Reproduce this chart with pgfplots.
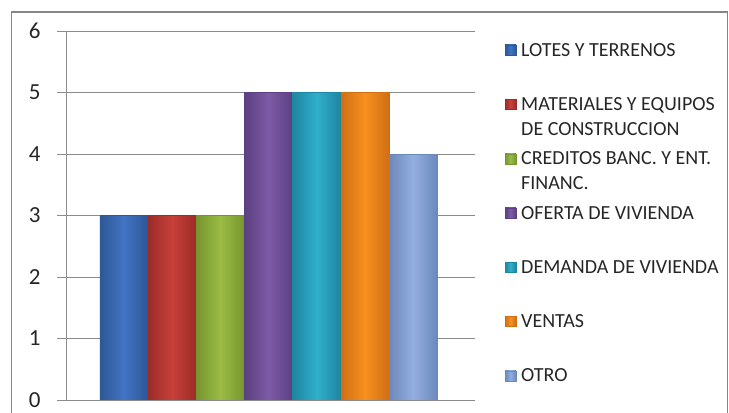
\documentclass[border=0pt]{standalone}
\usepackage{fontspec}
\setmainfont{Carlito}
\usepackage{pgfplots}
\pgfplotsset{compat=1.18}

\definecolor{axgray}{HTML}{8C8C8C}
\definecolor{frgray}{HTML}{868686}
\definecolor{cA}{HTML}{4274C4}\definecolor{cAd}{HTML}{2D5796}
\definecolor{cB}{HTML}{C8403A}\definecolor{cBd}{HTML}{9C2C28}
\definecolor{cC}{HTML}{9BBB45}\definecolor{cCd}{HTML}{76952E}
\definecolor{cD}{HTML}{7D5BA6}\definecolor{cDd}{HTML}{5C4082}
\definecolor{cE}{HTML}{31AECB}\definecolor{cEd}{HTML}{1D86A0}
\definecolor{cF}{HTML}{F7901E}\definecolor{cFd}{HTML}{D06E14}
\definecolor{cG}{HTML}{93AEDE}\definecolor{cGd}{HTML}{6B88BC}

\pgfplotsset{
  bev/.style n args={2}{left color=#2, right color=#2, middle color=#1, draw=#2, line width=0.4bp},
}
% legend entry: colour, dark colour, baseline (pixels from top), text
\newcommand{\legentry}[4]{%
  \path[left color=#2, right color=#2, middle color=#1, draw=#2, line width=0.3bp]
    (505bp,{(413-#3+1)*1bp}) rectangle (516bp,{(413-#3+11)*1bp});
  \node[anchor=base west, inner sep=0pt, font=\fontsize{20bp}{24bp}\selectfont, text=black!85]
    at (521bp,{(413-#3)*1bp}) {#4};}
\newcommand{\legline}[2]{%
  \node[anchor=base west, inner sep=0pt, font=\fontsize{20bp}{24bp}\selectfont, text=black!85]
    at (521bp,{(413-#1)*1bp}) {#2};}

\begin{document}
\begin{tikzpicture}
\path[use as bounding box] (0bp,0bp) rectangle (729bp,413bp);
\begin{scope}
  \clip (0bp,0bp) rectangle (729bp,413bp);
  \draw[frgray, line width=1.8bp] (11.5bp,-10bp) rectangle (727.5bp,401bp);
\end{scope}
\begin{axis}[
    ybar=0pt,
    at={(66bp,13bp)}, anchor=south west,
    scale only axis,
    width=409bp, height=369bp,
    xmin=0, xmax=409,
    ymin=0, ymax=6,
    ytick={0,1,2,3,4,5,6},
    xtick=\empty,
    axis lines=left,
    axis line style={-, draw=axgray, line width=1bp},
    tick align=outside,
    major tick length=9bp,
    ytick style={draw=axgray, line width=1bp},
    ymajorgrids,
    grid style={draw=axgray, line width=1bp},
    /pgf/number format/assume math mode=true,
    yticklabel style={font=\fontsize{23bp}{27bp}\selectfont, text=black!85, xshift=-13bp},
]
\addplot[bar width=48.2bp, bev={cA}{cAd}] coordinates {(202.5,3)};
\addplot[bar width=48.2bp, bev={cB}{cBd}] coordinates {(202.5,3)};
\addplot[bar width=48.2bp, bev={cC}{cCd}] coordinates {(202.5,3)};
\addplot[bar width=48.2bp, bev={cD}{cDd}] coordinates {(202.5,5)};
\addplot[bar width=48.2bp, bev={cE}{cEd}] coordinates {(202.5,5)};
\addplot[bar width=48.2bp, bev={cF}{cFd}] coordinates {(202.5,5)};
\addplot[bar width=48.2bp, bev={cG}{cGd}] coordinates {(202.5,4)};
\end{axis}
\legentry{cA}{cAd}{56}{LOTES Y TERRENOS}
\legentry{cB}{cBd}{110.5}{MATERIALES Y EQUIPOS}
\legline{135}{DE CONSTRUCCION}
\legentry{cC}{cCd}{164.75}{CREDITOS BANC. Y ENT.}
\legline{189.25}{FINANC.}
\legentry{cD}{cDd}{219}{OFERTA DE VIVIENDA}
\legentry{cE}{cEd}{273.25}{DEMANDA DE VIVIENDA}
\legentry{cF}{cFd}{327.5}{VENTAS}
\legentry{cG}{cGd}{381.75}{OTRO}
\end{tikzpicture}
\end{document}
